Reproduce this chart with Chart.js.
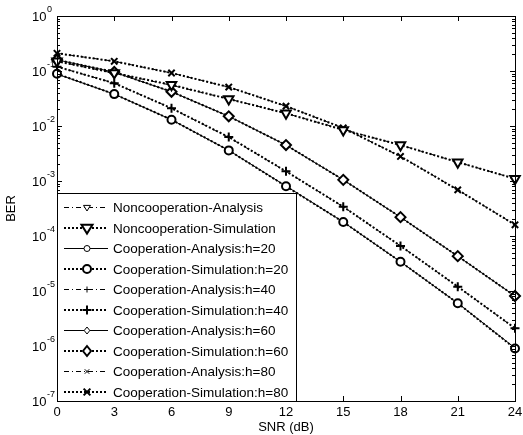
<!DOCTYPE html>
<html>
<head>
<meta charset="utf-8">
<script src="https://cdn.jsdelivr.net/npm/chart.js@4.4.1/dist/chart.umd.min.js"></script>
<style>
  html, body { margin: 0; padding: 0; background: #fff; }
</style>
</head>
<body>
<canvas id="berChart" width="523" height="435"></canvas>
<script>
// SNR values (dB) and tick positions
const snr = [0, 3, 6, 9, 12, 15, 18, 21, 24];
const yExponents = [0, -1, -2, -3, -4, -5, -6, -7];

// BER values
const nonCoopAnalysis = [0.15, 0.091, 0.055, 0.031, 0.017, 0.0086, 0.0045, 0.0022, 0.0011];
const nonCoopSim      = [0.15, 0.092, 0.056, 0.031, 0.017, 0.0085, 0.0045, 0.0022, 0.0011];
const coopAnalysis20  = [0.088, 0.038, 0.013, 0.0036, 0.00081, 0.00018, 0.000034, 0.000006, 0.00000092];
const coopSim20       = [0.089, 0.038, 0.013, 0.0036, 0.0008, 0.00018, 0.000034, 0.000006, 0.0000009];
const coopAnalysis40  = [0.12, 0.06, 0.021, 0.0062, 0.0015, 0.00034, 0.000066, 0.000012, 0.0000021];
const coopSim40       = [0.12, 0.06, 0.021, 0.0063, 0.0015, 0.00034, 0.000066, 0.000012, 0.0000021];
const coopAnalysis60  = [0.16, 0.095, 0.042, 0.015, 0.0045, 0.00105, 0.00022, 0.000043, 0.0000081];
const coopSim60       = [0.16, 0.096, 0.042, 0.015, 0.0045, 0.00105, 0.00022, 0.000043, 0.0000081];
const coopAnalysis80  = [0.21, 0.15, 0.092, 0.051, 0.023, 0.0092, 0.0028, 0.00069, 0.00016];
const coopSim80       = [0.21, 0.15, 0.092, 0.051, 0.023, 0.0092, 0.0028, 0.00069, 0.00016];

const labels = [
  'Noncooperation-Analysis', 'Noncooperation-Simulation',
  'Cooperation-Analysis:h=20', 'Cooperation-Simulation:h=20',
  'Cooperation-Analysis:h=40', 'Cooperation-Simulation:h=40',
  'Cooperation-Analysis:h=60', 'Cooperation-Simulation:h=60',
  'Cooperation-Analysis:h=80', 'Cooperation-Simulation:h=80'
];

const FONT = '"Liberation Sans", Arial, Helvetica, sans-serif';
const dashDot = [5, 3, 1, 3];

function analysisSet(label, values, style, radius, rotation, dash) {
  return {
    label: label,
    data: snr.map((s, i) => ({ x: s, y: values[i] })),
    borderColor: '#000', backgroundColor: '#fff',
    borderWidth: 1, borderDash: dash,
    pointStyle: style, pointRadius: radius, pointRotation: rotation || 0,
    pointBorderWidth: 1, pointBackgroundColor: 'rgba(0,0,0,0)',
    clip: false,
    order: 2
  };
}

function simSet(label, values, style, radius, rotation) {
  return {
    label: label,
    data: snr.map((s, i) => ({ x: s, y: values[i] })),
    borderColor: '#000', backgroundColor: '#fff',
    borderWidth: 2, borderDash: [2, 2],
    pointStyle: style, pointRadius: radius, pointRotation: rotation || 0,
    pointBorderWidth: 2, pointBackgroundColor: '#fff',
    clip: false,
    order: 1
  };
}

const datasets = [
  analysisSet(labels[0], nonCoopAnalysis, 'triangle', 3.5, 180, dashDot),
  simSet(labels[1], nonCoopSim, 'triangle', 5.5, 180),
  analysisSet(labels[2], coopAnalysis20, 'circle', 3, 0, []),
  simSet(labels[3], coopSim20, 'circle', 4),
  analysisSet(labels[4], coopAnalysis40, 'cross', 3, 0, dashDot),
  simSet(labels[5], coopSim40, 'cross', 4.5),
  analysisSet(labels[6], coopAnalysis60, 'rectRot', 3.5, 0, []),
  simSet(labels[7], coopSim60, 'rectRot', 5),
  analysisSet(labels[8], coopAnalysis80, 'crossRot', 3, 0, dashDot),
  simSet(labels[9], coopSim80, 'crossRot', 4.5)
];

function drawMarker(ctx, style, x, y, r) {
  ctx.beginPath();
  if (style === 'circle') {
    ctx.arc(x, y, r, 0, Math.PI * 2);
    ctx.fill();
  } else if (style === 'triangle') {
    // pointing down
    ctx.moveTo(x - r, y - r * 0.6);
    ctx.lineTo(x + r, y - r * 0.6);
    ctx.lineTo(x, y + r);
    ctx.closePath();
    ctx.fill();
  } else if (style === 'rectRot') {
    ctx.moveTo(x, y - r); ctx.lineTo(x + r * 0.8, y);
    ctx.lineTo(x, y + r); ctx.lineTo(x - r * 0.8, y); ctx.closePath();
    ctx.fill();
  } else if (style === 'cross') {
    ctx.moveTo(x - r, y); ctx.lineTo(x + r, y);
    ctx.moveTo(x, y - r); ctx.lineTo(x, y + r);
  } else if (style === 'crossRot') {
    const d = r * 0.75;
    ctx.moveTo(x - d, y - d); ctx.lineTo(x + d, y + d);
    ctx.moveTo(x - d, y + d); ctx.lineTo(x + d, y - d);
  }
  ctx.stroke();
}

const framePlugin = {
  id: 'frame',
  afterDraw(chart) {
    const { ctx, chartArea: a, scales: { x, y } } = chart;
    ctx.save();
    ctx.strokeStyle = '#000';
    ctx.lineWidth = 1;
    ctx.setLineDash([]);
    ctx.strokeRect(a.left + 0.5, a.top + 0.5, a.right - a.left, a.bottom - a.top);

    // inward ticks on x
    ctx.beginPath();
    snr.forEach(v => {
      const px = Math.round(x.getPixelForValue(v)) + 0.5;
      ctx.moveTo(px, a.bottom); ctx.lineTo(px, a.bottom - 5);
      ctx.moveTo(px, a.top); ctx.lineTo(px, a.top + 5);
    });
    // inward ticks on y (major + minor)
    yExponents.forEach(e => {
      const base = Math.pow(10, e);
      const py = Math.round(y.getPixelForValue(base)) + 0.5;
      ctx.moveTo(a.left, py); ctx.lineTo(a.left + 5, py);
      ctx.moveTo(a.right, py); ctx.lineTo(a.right - 5, py);
      if (e < 0) {
        for (let m = 2; m <= 9; m++) {
          const pm = Math.round(y.getPixelForValue(base * m)) + 0.5;
          ctx.moveTo(a.left, pm); ctx.lineTo(a.left + 3, pm);
          ctx.moveTo(a.right, pm); ctx.lineTo(a.right - 3, pm);
        }
      }
    });
    ctx.stroke();

    // y tick labels 10^e
    ctx.fillStyle = '#000';
    ctx.textBaseline = 'middle';
    ctx.textAlign = 'left';
    yExponents.forEach(e => {
      const py = y.getPixelForValue(Math.pow(10, e));
      ctx.font = '13px ' + FONT;
      ctx.fillText('10', 32, py + 1);
      const w = ctx.measureText('10').width;
      ctx.font = '9px ' + FONT;
      ctx.fillText(String(e), 32 + w + 0.5, py - 6);
    });

    // legend box inside the plot, bottom-left
    const box = { left: a.left, top: 193, right: 296, bottom: a.bottom };
    ctx.fillStyle = '#fff';
    ctx.fillRect(box.left + 1, box.top, box.right - box.left, box.bottom - box.top);
    ctx.strokeRect(box.left + 0.5, box.top + 0.5, box.right - box.left, box.bottom - box.top);
    ctx.textBaseline = 'middle';
    chart.data.datasets.forEach((ds, i) => {
      const ry = 207.5 + i * 20.5;
      ctx.strokeStyle = '#000';
      ctx.lineWidth = ds.borderWidth;
      ctx.setLineDash(ds.borderDash);
      ctx.beginPath();
      ctx.moveTo(64, ry); ctx.lineTo(108, ry);
      ctx.stroke();
      ctx.setLineDash([]);
      ctx.lineWidth = ds.pointBorderWidth;
      ctx.fillStyle = '#fff';
      drawMarker(ctx, ds.pointStyle, 87, ry, ds.pointRadius);
      ctx.fillStyle = '#000';
      ctx.font = '13.5px ' + FONT;
      ctx.fillText(ds.label, 113, ry + 1);
    });
    ctx.restore();
  }
};

new Chart(document.getElementById('berChart'), {
  type: 'line',
  data: { datasets: datasets },
  options: {
    responsive: false,
    animation: false,
    layout: { padding: { top: 16, right: 8, left: 0, bottom: 0 } },
    plugins: { legend: { display: false }, tooltip: { enabled: false } },
    scales: {
      x: {
        type: 'linear', min: 0, max: 24,
        afterBuildTicks: s => { s.ticks = snr.map(v => ({ value: v })); },
        afterFit: s => { s.height = 34; },
        grid: { display: false },
        border: { display: false },
        ticks: { color: '#000', font: { family: FONT, size: 13 }, padding: -4, maxRotation: 0 },
        title: { display: true, text: 'SNR (dB)', color: '#000', font: { family: FONT, size: 13 }, padding: { top: 0, bottom: 0 } }
      },
      y: {
        type: 'logarithmic', min: 1e-7, max: 1,
        afterBuildTicks: s => { s.ticks = yExponents.map(e => ({ value: Math.pow(10, e) })); },
        afterFit: s => { s.width = 57; },
        grid: { display: false },
        border: { display: false },
        ticks: { display: false },
        title: { display: true, text: 'BER', color: '#000', font: { family: FONT, size: 13 }, padding: { top: 4, bottom: 0 } }
      }
    }
  },
  plugins: [framePlugin]
});
</script>
</body>
</html>
